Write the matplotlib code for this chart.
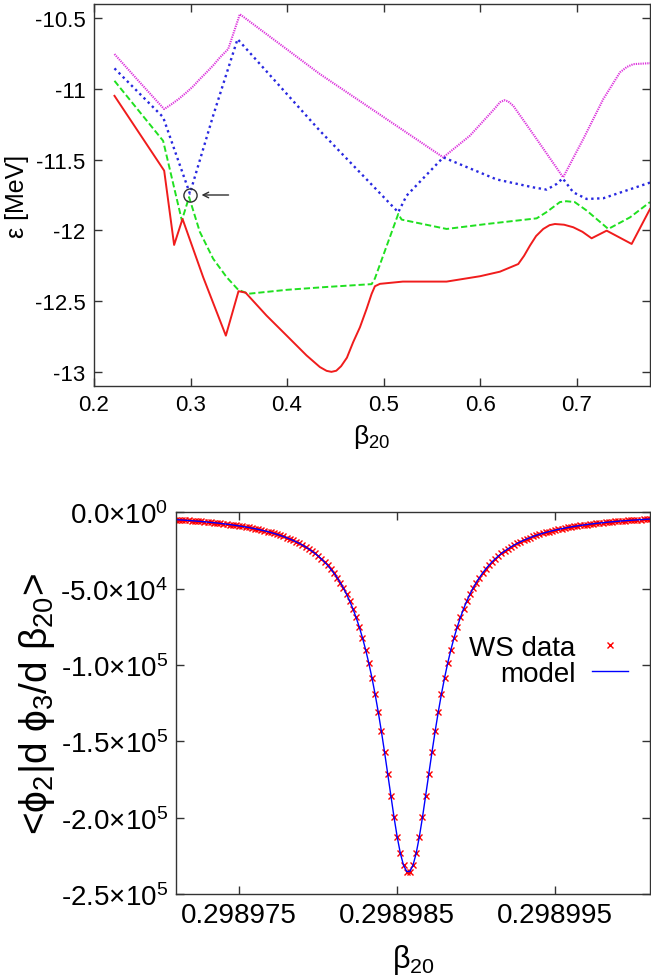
import numpy as np
import matplotlib
matplotlib.use("Agg")
import matplotlib.pyplot as plt

plt.rcParams['font.family'] = ['Liberation Sans', 'DejaVu Sans']
plt.rcParams['mathtext.fontset'] = 'custom'
plt.rcParams['mathtext.rm'] = 'Liberation Sans'
plt.rcParams['mathtext.it'] = 'Liberation Sans'
plt.rcParams['mathtext.default'] = 'regular'
plt.rcParams['axes.unicode_minus'] = False

# --- single-particle levels vs deformation ---
red_b = [0.2212, 0.2727, 0.283, 0.2917, 0.3131, 0.3366, 0.3497, 0.357, 0.3787, 0.3995,
         0.4202, 0.434, 0.441, 0.446, 0.451, 0.456, 0.462, 0.4685, 0.4755, 0.4824,
         0.4876, 0.491, 0.4962, 0.520, 0.5653, 0.600, 0.6205, 0.6395, 0.6455, 0.6516,
         0.658, 0.6654, 0.672, 0.6775, 0.687, 0.6965, 0.706, 0.7155, 0.7311, 0.757, 0.776]
red_e = [-11.049, -11.578, -12.103, -11.919, -12.331, -12.744, -12.43, -12.44, -12.602, -12.743,
         -12.884, -12.966, -12.993, -13.0, -12.992, -12.96, -12.90, -12.79, -12.685, -12.555,
         -12.449, -12.395, -12.378, -12.362, -12.362, -12.324, -12.292, -12.238, -12.18, -12.108,
         -12.04, -11.99, -11.963, -11.955, -11.96, -11.978, -12.01, -12.056, -12.002, -12.096, -11.849]

green_b = [0.2212, 0.2716, 0.2910, 0.2985, 0.3096, 0.3234, 0.3373, 0.3494, 0.360, 0.40,
           0.441, 0.4876, 0.491, 0.5152, 0.5187, 0.5653, 0.6067, 0.6586, 0.669, 0.6827,
           0.6894, 0.698, 0.7104, 0.7328, 0.7553, 0.776]
green_e = [-10.943, -11.367, -11.93, -11.765, -12.01, -12.20, -12.33, -12.42, -12.448, -12.42,
           -12.40, -12.38, -12.34, -11.884, -11.924, -11.99, -11.955, -11.915, -11.87, -11.80,
           -11.794, -11.80, -11.86, -11.99, -11.908, -11.80]

blue_b = [0.2212, 0.2716, 0.2855, 0.2993, 0.3234, 0.3487, 0.434, 0.5152, 0.5238, 0.5618,
          0.6171, 0.655, 0.669, 0.6793, 0.6855, 0.6965, 0.7104, 0.7276, 0.777]
blue_e = [-10.855, -11.20, -11.472, -11.74, -11.19, -10.648, -11.296, -11.872, -11.755, -11.484,
          -11.64, -11.696, -11.712, -11.672, -11.632, -11.731, -11.778, -11.773, -11.66]

mag_b = [0.2212, 0.2475, 0.2727, 0.280, 0.288, 0.2958, 0.303, 0.3096, 0.3166, 0.324,
         0.3304, 0.339, 0.3511, 0.434, 0.5618, 0.5894, 0.615, 0.6205, 0.625, 0.629,
         0.6343, 0.6586, 0.686, 0.7068, 0.7276, 0.7449, 0.752, 0.7587, 0.777]
mag_e = [-10.754, -10.954, -11.143, -11.11, -11.07, -11.025, -10.98, -10.931, -10.883, -10.83,
         -10.778, -10.719, -10.472, -10.895, -11.484, -11.331, -11.14, -11.095, -11.08, -11.088,
         -11.119, -11.355, -11.625, -11.355, -11.072, -10.883, -10.845, -10.825, -10.818]

# avoided crossing marked on the upper panel
cross_b, cross_e = 0.2994, -11.75

# --- coupling matrix element across the crossing ---
beta_first, beta_last, n_beta = 0.298971, 0.299001, 151
coupling = [-4804, -4935, -5071, -5213, -5360, -5514, -5675, -5843, -6018, -6201,
            -6393, -6593, -6803, -7023, -7254, -7496, -7750, -8018, -8299, -8595,
            -8907, -9236, -9584, -9951, -10339, -10750, -11186, -11648, -12139, -12661,
            -13217, -13809, -14441, -15117, -15840, -16615, -17447, -18340, -19302, -20340,
            -21460, -22672, -23986, -25412, -26963, -28655, -30502, -32524, -34742, -37180,
            -39865, -42829, -46109, -49745, -53784, -58279, -63291, -68887, -75138, -82125,
            -89931, -98636, -108313, -119017, -130766, -143516, -157135, -171364, -185783, -199793,
            -212619, -223375, -231172, -235278,
            -235278, -231172, -223375, -212619, -199793, -185783, -171364, -157135, -143516, -130766,
            -119017, -108313, -98636, -89931, -82125, -75138, -68887, -63291, -58279, -53784,
            -49745, -46109, -42829, -39865, -37180, -34742, -32524, -30502, -28655, -26963,
            -25412, -23986, -22672, -21460, -20340, -19302, -18340, -17447, -16615, -15840,
            -15117, -14441, -13809, -13217, -12661, -12139, -11648, -11186, -10750, -10339,
            -9951, -9584, -9236, -8907, -8595, -8299, -8018, -7750, -7496, -7254,
            -7023, -6803, -6593, -6393, -6201, -6018, -5843, -5675, -5514, -5360,
            -5213, -5071, -4935, -4804, -4679, -4558, -4442]
beta_scan = np.linspace(beta_first, beta_last, n_beta)

e_ticks = [-10.5, -11, -11.5, -12, -12.5, -13]
b_ticks = [0.2, 0.3, 0.4, 0.5, 0.6, 0.7]
c_ticks = [0, -5e4, -1e5, -1.5e5, -2e5, -2.5e5]
c_labels = ['0.0\u00d710$^{0}$', '-5.0\u00d710$^{4}$', '-1.0\u00d710$^{5}$',
            '-1.5\u00d710$^{5}$', '-2.0\u00d710$^{5}$', '-2.5\u00d710$^{5}$']
s_ticks = [0.298975, 0.298985, 0.298995]

W, H = 651, 978
fig = plt.figure(figsize=(W / 100, H / 100), dpi=100)

ax1 = fig.add_axes([94 / W, 1 - 387 / H, 556 / W, 382 / H])
ax1.plot(mag_b, mag_e, color='#dd33dd', lw=1.5, ls=(0, (0.6, 0.5)))
ax1.plot(blue_b, blue_e, color='#2828e0', lw=1.7, ls=(0, (1, 1.5)))
ax1.plot(green_b, green_e, color='#20e020', lw=1.4, ls=(0, (3.2, 1.5)))
ax1.plot(red_b, red_e, color='#f01c1c', lw=1.4)
ax1.plot([cross_b], [cross_e], marker='o', ms=9.5, mfc='none', mec='#303030', mew=1.0)
ax1.annotate('', xy=(cross_b + 0.012, cross_e), xytext=(cross_b + 0.040, cross_e),
             arrowprops=dict(arrowstyle='->', color='#303030', lw=1.0, shrinkA=0, shrinkB=0))
ax1.set_xlim(0.2, 0.776)
ax1.set_ylim(-13.1, -10.4)
ax1.set_xticks(b_ticks, [f'{t:g}' for t in b_ticks])
ax1.set_yticks(e_ticks, [f'{t:g}' for t in e_ticks])
ax1.tick_params(direction='in', top=True, right=True, length=6, width=1,
                labelsize=16, pad=6, colors='#333333', labelcolor='black')
ax1.set_xlabel('\u03b2$_{20}$', fontsize=19, labelpad=5)
ax1.set_ylabel('\u03b5 [MeV]', fontsize=18, labelpad=4)

ax2 = fig.add_axes([176 / W, 1 - 895 / H, 474 / W, 381.7 / H])
ax2.plot(beta_scan, coupling, ls='none', marker='x', ms=5, mew=1.0, color='#ff0000',
         label='WS data')
ax2.plot(beta_scan, coupling, color='#0000ff', lw=1.0, label='model')
ax2.set_xlim(beta_first, beta_last)
ax2.set_ylim(-2.5e5, 0)
ax2.set_xticks(s_ticks, [f'{t:.6f}' for t in s_ticks])
ax2.set_yticks(c_ticks, c_labels)
ax2.tick_params(direction='in', top=True, right=True, length=6, width=1,
                labelsize=20, pad=6, colors='#333333', labelcolor='black')
ax2.set_xlabel('\u03b2$_{20}$', fontsize=22, labelpad=10)
ax2.set_ylabel('<\u03d5$_{2}$|d \u03d5$_{3}$/d \u03b2$_{20}$>', fontsize=28, labelpad=2)
ax2.legend(loc='center right', bbox_to_anchor=(628 / W, 1 - 662 / H),
           bbox_transform=fig.transFigure, frameon=False, markerfirst=False,
           fontsize=20, handlelength=1.3, handletextpad=0.6, labelspacing=0.0,
           borderpad=0, borderaxespad=0)

for ax in (ax1, ax2):
    for sp in ax.spines.values():
        sp.set_linewidth(1.0)
        sp.set_color('#333333')

fig.savefig('out.png', dpi=100)
